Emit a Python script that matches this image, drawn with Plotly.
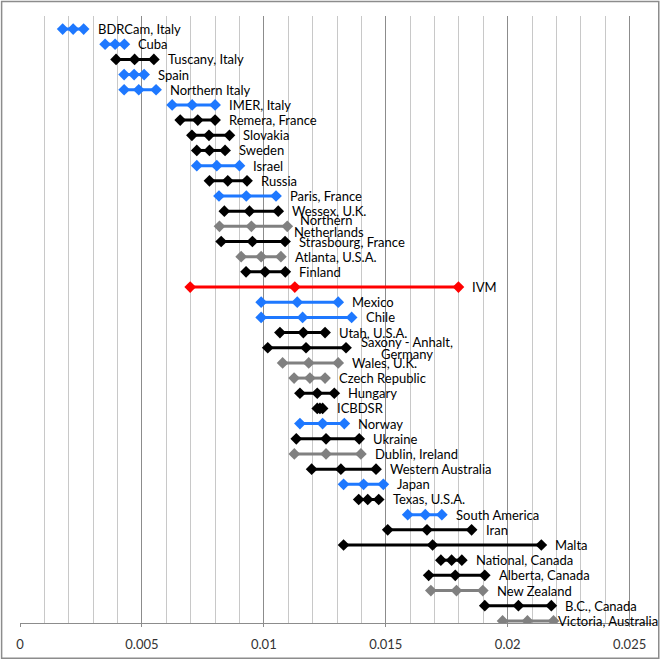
import plotly.graph_objects as go

labels = ["BDRCam, Italy", "Cuba", "Tuscany, Italy", "Spain", "Northern Italy",
          "IMER, Italy", "Remera, France", "Slovakia", "Sweden", "Israel",
          "Russia", "Paris, France", "Wessex, U.K.", ["Northern", "Netherlands"],
          "Strasbourg, France", "Atlanta, U.S.A.", "Finland", "IVM", "Mexico", "Chile",
          "Utah, U.S.A.", ["Saxony - Anhalt,", "Germany"], "Wales, U.K.", "Czech Republic",
          "Hungary", "ICBDSR", "Norway", "Ukraine", "Dublin, Ireland", "Western Australia",
          "Japan", "Texas, U.S.A.", "South America", "Iran", "Malta", "National, Canada",
          "Alberta, Canada", "New Zealand", "B.C., Canada", "Victoria, Australia"]

low = [0.00175, 0.00349, 0.00394, 0.00427, 0.00427, 0.00624, 0.00657, 0.00705, 0.00725, 0.00725,
       0.00777, 0.00816, 0.00838, 0.00818, 0.00825, 0.00907, 0.00927, 0.00698, 0.00989, 0.00989,
       0.01066, 0.01016, 0.01077, 0.01124, 0.01148, 0.01219, 0.01148, 0.01133, 0.01125, 0.01196,
       0.01327, 0.01389, 0.01590, 0.01508, 0.01327, 0.01726, 0.01676, 0.01685, 0.01906, 0.01979]
mid = [0.00218, 0.00390, 0.00470, 0.00468, 0.00487, 0.00706, 0.00729, 0.00775, 0.00777, 0.00807,
       0.00852, 0.00928, 0.00941, 0.00949, 0.00953, 0.00989, 0.01005, 0.01127, 0.01137, 0.01159,
       0.01162, 0.01173, 0.01184, 0.01189, 0.01219, 0.01230, 0.01241, 0.01255, 0.01255, 0.01316,
       0.01409, 0.01426, 0.01662, 0.01669, 0.01692, 0.01770, 0.01785, 0.01790, 0.02044, 0.02081]
high = [0.00261, 0.00428, 0.00549, 0.00509, 0.00558, 0.00800, 0.00800, 0.00859, 0.00841, 0.00900,
        0.00931, 0.01050, 0.01059, 0.01096, 0.01087, 0.01070, 0.01088, 0.01798, 0.01305, 0.01360,
        0.01251, 0.01337, 0.01305, 0.01251, 0.01289, 0.01241, 0.01330, 0.01391, 0.01398, 0.01460,
        0.01490, 0.01471, 0.01730, 0.01852, 0.02138, 0.01812, 0.01906, 0.01898, 0.02179, 0.02188]
group = ["B", "B", "K", "B", "B", "B", "K", "K", "K", "B",
         "K", "B", "K", "G", "K", "G", "K", "R", "B", "B",
         "K", "K", "G", "G", "K", "K", "B", "K", "G", "K",
         "B", "K", "B", "K", "K", "K", "K", "G", "K", "G"]

x_ticks = [0, 0.005, 0.01, 0.015, 0.02, 0.025]
x_tick_labels = ["0", "0.005", "0.01", "0.015", "0.02", "0.025"]

colors = {"B": "#1E78FF", "K": "#000000", "G": "#808080", "R": "#FF0000"}
FONT = "Lato"
FSIZE = 13
LABEL_GAP = 12
# horizontal shifts (px) of each line of the two-line labels (lines centred on each other)
line_shift = {"Northern": 11, "Netherlands": 5, "Saxony - Anhalt,": 13, "Germany": 33}

fig = go.Figure()
rows = list(range(1, len(labels) + 1))
for g, col in colors.items():
    xs, ys = [], []
    for r, lo, mi, hi, gg in zip(rows, low, mid, high, group):
        if gg != g:
            continue
        xs += [lo, mi, hi, None]
        ys += [r, r, r, None]
    fig.add_trace(go.Scatter(x=xs, y=ys, mode="lines+markers",
                             line=dict(color=col, width=3),
                             marker=dict(symbol="diamond", size=9, color=col),
                             showlegend=False, hoverinfo="skip"))

font = dict(family=FONT, size=FSIZE, color="#000000")
for r, hi, lab in zip(rows, high, labels):
    if isinstance(lab, list):
        for line, ysh in zip(lab, (6, -6)):
            fig.add_annotation(x=hi, y=r, text=line, xanchor="left", yanchor="middle",
                               xshift=line_shift[line], yshift=ysh, showarrow=False, font=font)
    elif r == len(labels):
        # last label is pushed left so that it stays inside the chart frame
        fig.add_annotation(x=1.0095, xref="paper", y=r, text=lab, xanchor="right",
                           yanchor="middle", showarrow=False, font=font)
    else:
        fig.add_annotation(x=hi, y=r, text=lab, xanchor="left", yanchor="middle",
                           xshift=LABEL_GAP, showarrow=False, font=font)

fig.update_layout(
    width=662, height=660,
    margin=dict(l=20, r=8, t=16, b=37),
    plot_bgcolor="white", paper_bgcolor="white",
    xaxis=dict(range=[0, 0.026], tickvals=x_ticks, ticktext=x_tick_labels,
               showgrid=True, gridcolor="#8c8c8c", gridwidth=1,
               minor=dict(dtick=0.001, tick0=0, showgrid=True, gridcolor="#c8c8c8", gridwidth=1),
               showline=True, linecolor="#8c8c8c", linewidth=1, zeroline=False,
               ticks="outside", ticklen=3, tickcolor="#8c8c8c", ticklabelstandoff=6,
               tickfont=dict(family=FONT, size=13, color="#333333")),
    yaxis=dict(range=[40.14, 0.14], showgrid=False, zeroline=False,
               showticklabels=False, showline=False),
    shapes=[dict(type="rect", xref="paper", yref="paper", x0=-0.029, x1=1.0075,
                 y0=-0.058, y1=1.024, line=dict(color="#8c8c8c", width=1.5))],
)

fig.write_html("out.html", config={"displayModeBar": False},
               post_script="document.body.style.margin='0';document.body.style.overflow='hidden';")
